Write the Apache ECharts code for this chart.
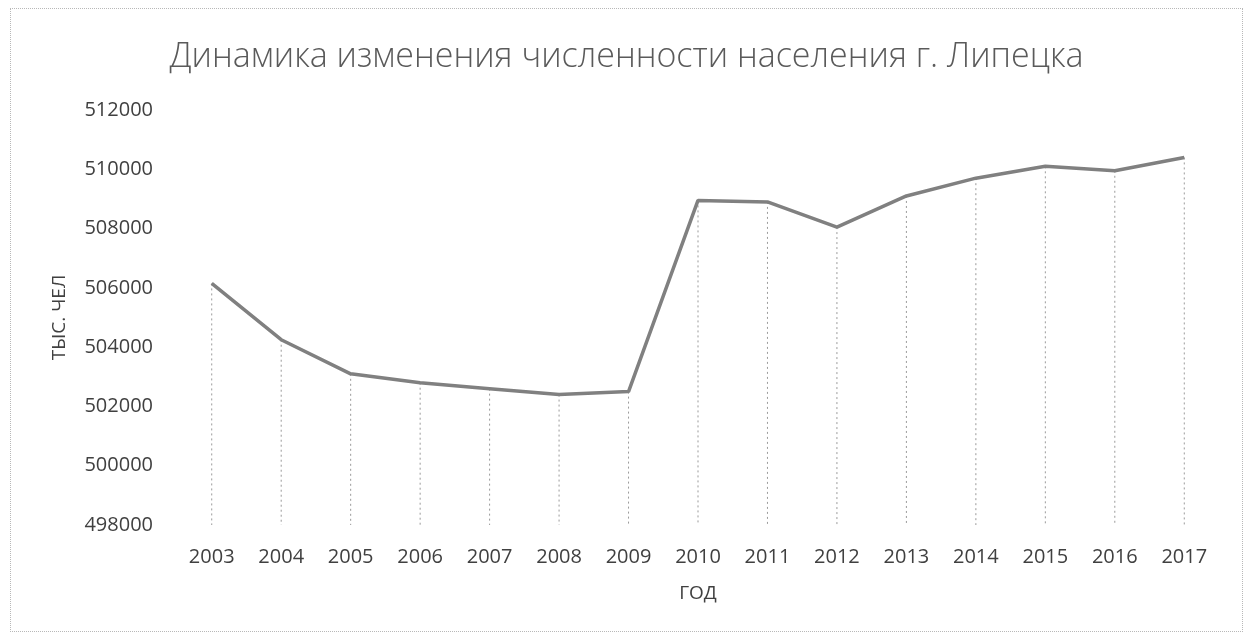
<!DOCTYPE html>
<html>
<head>
<meta charset="utf-8">
<title>Динамика изменения численности населения г. Липецка</title>
<script src="https://cdn.jsdelivr.net/npm/echarts@6/dist/echarts.min.js"></script>
<style>
  html, body { margin: 0; padding: 0; background: #fff; }
  #frame {
    position: absolute; left: 10px; top: 8px; width: 1233px; height: 624px;
    border: 1px dotted #b8b8b8; box-sizing: border-box;
  }
  #chart { width: 1253px; height: 641px; position: absolute; left: 0; top: 0; }
</style>
</head>
<body>
<div id="frame"></div>
<div id="chart"></div>
<script>
// годы и численность населения
var years = ['2003', '2004', '2005', '2006', '2007', '2008', '2009', '2010',
  '2011', '2012', '2013', '2014', '2015', '2016', '2017'];
var population = [506150, 504250, 503100, 502800, 502600, 502400, 502500, 508950,
  508900, 508050, 509100, 509700, 510100, 509950, 510400];
var yMin = 498000;
var yMax = 512000;

var chartDom = document.getElementById('chart');
var myChart = echarts.init(chartDom);
var font = '"Open Sans", "Noto Sans", sans-serif';
var option;

option = {
  backgroundColor: 'transparent',
  animation: false,
  title: {
    text: 'Динамика изменения численности населения г. Липецка',
    left: 'center',
    top: 35,
    textStyle: {
      fontFamily: font,
      fontSize: 34,
      fontWeight: 300,
      color: '#5a5a5a'
    }
  },
  grid: {
    left: 177,
    right: 34,
    top: 110,
    bottom: 116
  },
  xAxis: {
    type: 'category',
    data: years,
    name: 'ГОД',
    nameLocation: 'middle',
    nameGap: 59,
    nameTextStyle: { fontFamily: font, fontSize: 19, color: '#404040' },
    axisLine: { show: false },
    axisTick: { show: false },
    axisLabel: { fontFamily: font, fontSize: 20, color: '#404040', margin: 22 },
    splitLine: { show: false }
  },
  yAxis: {
    type: 'value',
    min: yMin,
    max: yMax,
    interval: 2000,
    name: 'ТЫС. ЧЕЛ',
    nameLocation: 'middle',
    nameGap: 108,
    nameTextStyle: { fontFamily: font, fontSize: 19, color: '#404040' },
    axisLine: { show: false },
    axisTick: { show: false },
    axisLabel: {
      fontFamily: font, fontSize: 20, color: '#404040', margin: 24,
      formatter: function (v) { return String(v); }
    },
    splitLine: { show: false }
  },
  series: [
    {
      // вертикальные линии проекции до оси
      name: 'drop',
      type: 'custom',
      silent: true,
      z: 1,
      data: population,
      renderItem: function (params, api) {
        var top = api.coord([api.value(0), api.value(1)]);
        var bottom = api.coord([api.value(0), yMin]);
        return {
          type: 'line',
          shape: { x1: top[0], y1: top[1], x2: bottom[0], y2: bottom[1] },
          style: { stroke: '#9a9a9a', lineWidth: 1, lineDash: [2, 3] }
        };
      }
    },
    {
      name: 'Численность',
      type: 'line',
      data: population,
      z: 3,
      symbol: 'none',
      lineStyle: { color: '#808080', width: 3.5 }
    }
  ]
};
option && myChart.setOption(option);
</script>
</body>
</html>
